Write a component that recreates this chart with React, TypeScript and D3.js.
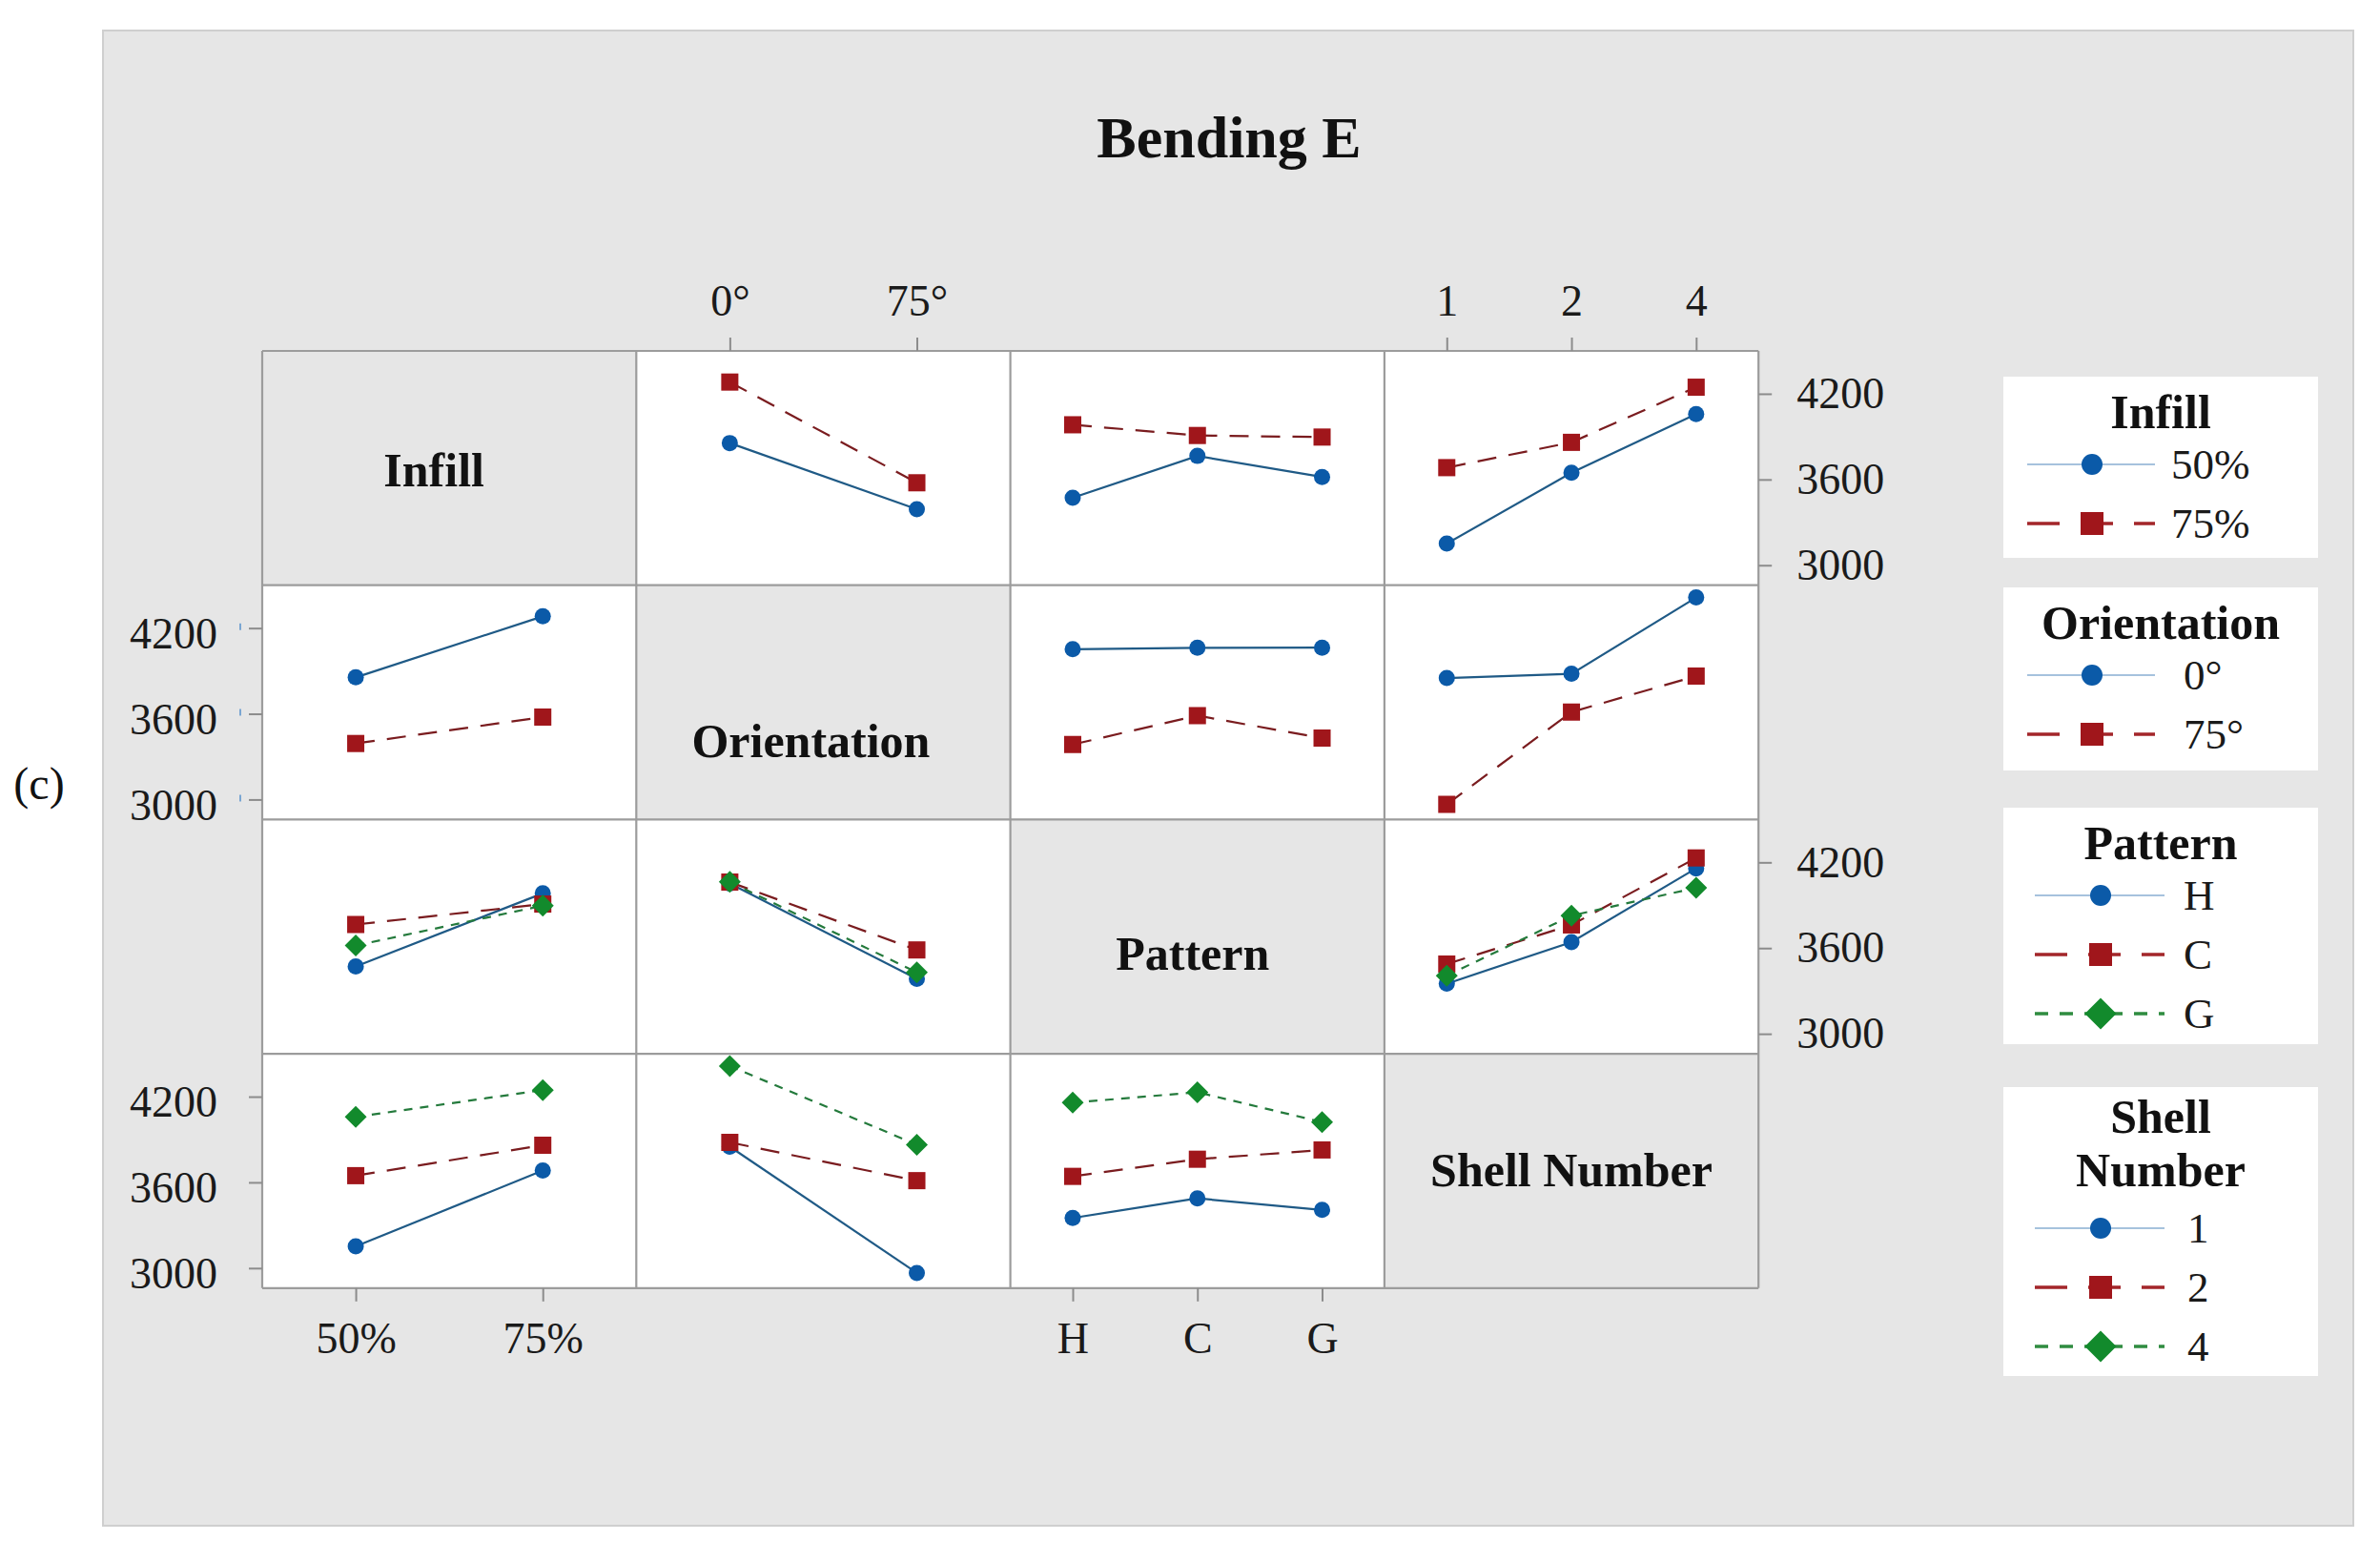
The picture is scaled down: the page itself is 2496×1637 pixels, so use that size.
import { useEffect, useRef } from "react";
import * as d3 from "d3";

// Factor levels
const INFILL = ["50%", "75%"];
const ORIENTATION = ["0°", "75°"];
const PATTERN = ["H", "C", "G"];
const SHELL = ["1", "2", "4"];

const FACTOR_NAMES = ["Infill", "Orientation", "Pattern", "Shell Number"];
const FACTOR_LEVELS = [INFILL, ORIENTATION, PATTERN, SHELL];

// Two-way means of Bending E, [level of first factor][level of second factor]
const INFILL_BY_ORIENTATION = [
  [3855, 3392],
  [4282, 3577],
];
const INFILL_BY_PATTERN = [
  [3472, 3765, 3618],
  [3983, 3908, 3897],
];
const INFILL_BY_SHELL = [
  [3152, 3647, 4058],
  [3683, 3860, 4246],
];
const ORIENTATION_BY_PATTERN = [
  [4052, 4062, 4063],
  [3385, 3587, 3430],
];
const ORIENTATION_BY_SHELL = [
  [3850, 3880, 4414],
  [2966, 3612, 3864],
];
const PATTERN_BY_SHELL = [
  [3351, 3642, 4158],
  [3488, 3762, 4231],
  [3407, 3827, 4022],
];

const MEANS: Record<string, number[][]> = {
  "0-1": INFILL_BY_ORIENTATION,
  "0-2": INFILL_BY_PATTERN,
  "0-3": INFILL_BY_SHELL,
  "1-2": ORIENTATION_BY_PATTERN,
  "1-3": ORIENTATION_BY_SHELL,
  "2-3": PATTERN_BY_SHELL,
};

const Y_TICKS = [3000, 3600, 4200];
const Y_DOMAIN = [2860, 4500];

// series look by level index
const STYLES = [
  { marker: "circle", fill: "#0b5aa8", line: "#1f5a86", dash: null, legendLine: "#a6c2dd", legendWidth: 2, legendDash: null },
  { marker: "square", fill: "#a0161b", line: "#7a1c1f", dash: "20,13", legendLine: "#a3262a", legendWidth: 3.5, legendDash: "34,22" },
  { marker: "diamond", fill: "#128a2c", line: "#247a3c", dash: "9,8", legendLine: "#2f8c40", legendWidth: 3.5, legendDash: "14,12" },
];

// layout
const W = 2496;
const H = 1637;
const GRID = { left: 275, top: 368, cellW: 392.3, cellH: 245.7 };
const DIAG_LABEL = [
  { dx: -16, cy: 493 },
  { dx: -13, cy: 777 },
  { dx: -5, cy: 1000 },
  { dx: 0, cy: 1227 },
];
const LEGEND_BOXES = [
  { top: 395, height: 190, x1: 2126, x2: 2260, mx: 2194, tx: 2277 },
  { top: 616, height: 192, x1: 2126, x2: 2260, mx: 2194, tx: 2290 },
  { top: 847, height: 248, x1: 2134, x2: 2270, mx: 2203, tx: 2290 },
  { top: 1140, height: 303, x1: 2134, x2: 2270, mx: 2203, tx: 2294 },
];

const FONT = "'Liberation Serif', 'DejaVu Serif', serif";
const GRAY_BG = "#e6e6e6";

function getMeans(trace: number, xf: number): number[][] {
  if (trace < xf) return MEANS[`${trace}-${xf}`];
  const m = MEANS[`${xf}-${trace}`];
  return m[0].map((_, j) => m.map((row) => row[j]));
}

function drawMarker(
  g: d3.Selection<SVGGElement, unknown, null, undefined>,
  kind: string,
  cx: number,
  cy: number,
  size: number,
  fill: string
) {
  if (kind === "circle") {
    g.append("circle").attr("cx", cx).attr("cy", cy).attr("r", size / 2).attr("fill", fill);
  } else if (kind === "square") {
    g.append("rect").attr("x", cx - size / 2).attr("y", cy - size / 2).attr("width", size).attr("height", size).attr("fill", fill);
  } else {
    const h = size / 2;
    g.append("path").attr("d", `M${cx},${cy - h}L${cx + h},${cy}L${cx},${cy + h}L${cx - h},${cy}Z`).attr("fill", fill);
  }
}

export default function App() {
  const svgRef = useRef<SVGSVGElement>(null);

  useEffect(() => {
    if (!svgRef.current) return;
    const svg = d3.select(svgRef.current);
    svg.selectAll("*").remove();

    svg.append("rect").attr("width", W).attr("height", H).attr("fill", "#ffffff");
    // outer gray panel
    svg.append("rect").attr("x", 108).attr("y", 32).attr("width", 2360).attr("height", 1568)
      .attr("fill", GRAY_BG).attr("stroke", "#cfcfcf").attr("stroke-width", 2);

    svg.append("text").attr("x", 1289).attr("y", 165).attr("text-anchor", "middle")
      .style("font-family", FONT).style("font-size", "62px").style("font-weight", "700").style("fill", "#111")
      .text("Bending E");

    svg.append("text").attr("x", 41).attr("y", 838).attr("text-anchor", "middle")
      .style("font-family", FONT).style("font-size", "48px").style("fill", "#111")
      .text("(c)");

    const n = FACTOR_NAMES.length;
    const colLeft = (c: number) => GRID.left + c * GRID.cellW;
    const rowTop = (r: number) => GRID.top + r * GRID.cellH;
    const xScale = (c: number) =>
      d3.scalePoint<string>().domain(FACTOR_LEVELS[c]).range([colLeft(c), colLeft(c) + GRID.cellW]).padding(0.5);
    const yScale = (r: number) =>
      d3.scaleLinear().domain(Y_DOMAIN).range([rowTop(r) + GRID.cellH, rowTop(r)]);

    const g = svg.append("g");

    // cells
    for (let r = 0; r < n; r++) {
      for (let c = 0; c < n; c++) {
        g.append("rect").attr("x", colLeft(c)).attr("y", rowTop(r))
          .attr("width", GRID.cellW).attr("height", GRID.cellH)
          .attr("fill", r === c ? GRAY_BG : "#ffffff");
      }
    }

    // plots
    for (let r = 0; r < n; r++) {
      for (let c = 0; c < n; c++) {
        if (r === c) continue;
        const x = xScale(c);
        const y = yScale(r);
        const means = getMeans(r, c);
        const levels = FACTOR_LEVELS[c];
        const lineGen = d3.line<number>().x((_, i) => x(levels[i]) as number).y((d) => y(d));
        means.forEach((series, s) => {
          const st = STYLES[s];
          g.append("path").attr("d", lineGen(series)).attr("fill", "none")
            .attr("stroke", st.line).attr("stroke-width", 2.2)
            .attr("stroke-dasharray", st.dash ?? null);
        });
        means.forEach((series, s) => {
          const st = STYLES[s];
          const size = st.marker === "circle" ? 17 : st.marker === "square" ? 18 : 23;
          series.forEach((v, i) => drawMarker(g, st.marker, x(levels[i]) as number, y(v), size, st.fill));
        });
      }
    }

    // grid lines
    const gridColor = "#9c9c9c";
    for (let i = 0; i <= n; i++) {
      g.append("line").attr("x1", colLeft(i)).attr("x2", colLeft(i))
        .attr("y1", rowTop(0)).attr("y2", rowTop(n))
        .attr("stroke", gridColor).attr("stroke-width", 2.2);
      g.append("line").attr("x1", colLeft(0)).attr("x2", colLeft(n))
        .attr("y1", rowTop(i)).attr("y2", rowTop(i))
        .attr("stroke", gridColor).attr("stroke-width", 2.2);
    }

    // diagonal labels
    FACTOR_NAMES.forEach((name, i) => {
      g.append("text").attr("x", colLeft(i) + GRID.cellW / 2 + DIAG_LABEL[i].dx)
        .attr("y", DIAG_LABEL[i].cy + 17).attr("text-anchor", "middle")
        .style("font-family", FONT).style("font-size", "50px").style("font-weight", "700").style("fill", "#111")
        .text(name);
    });

    const styleAxis = (ax: d3.Selection<SVGGElement, unknown, null, undefined>) => {
      ax.select(".domain").remove();
      ax.selectAll(".tick line").attr("stroke", "#8c8c8c").attr("stroke-width", 2);
      ax.selectAll(".tick text").style("font-family", FONT).style("font-size", "46px").style("fill", "#1a1a1a");
    };

    // x axes: top for odd columns, bottom for even columns
    for (let c = 0; c < n; c++) {
      const x = xScale(c);
      if (c % 2 === 1) {
        const ax = g.append("g").attr("transform", `translate(0,${rowTop(0)})`)
          .call(d3.axisTop(x).tickSize(14).tickPadding(23));
        styleAxis(ax);
      } else {
        const ax = g.append("g").attr("transform", `translate(0,${rowTop(n)})`)
          .call(d3.axisBottom(x).tickSize(14).tickPadding(22));
        styleAxis(ax);
      }
    }

    // y axes: right for even rows, left for odd rows
    for (let r = 0; r < n; r++) {
      const y = yScale(r);
      if (r % 2 === 0) {
        const ax = g.append("g").attr("transform", `translate(${colLeft(n)},0)`)
          .call(d3.axisRight(y).tickValues(Y_TICKS).tickFormat(d3.format("d")).tickSize(14).tickPadding(26));
        styleAxis(ax);
      } else {
        const ax = g.append("g").attr("transform", `translate(${colLeft(0)},0)`)
          .call(d3.axisLeft(y).tickValues(Y_TICKS).tickFormat(d3.format("d")).tickSize(14).tickPadding(33));
        styleAxis(ax);
        ax.selectAll(".tick text").attr("dy", "0.45em");
        if (r === 1) {
          // faint blue marks beside the first left axis
          Y_TICKS.forEach((t) => {
            g.append("line").attr("x1", colLeft(0) - 23).attr("x2", colLeft(0) - 23)
              .attr("y1", y(t) - 5).attr("y2", y(t) + 2)
              .attr("stroke", "#7aa6d2").attr("stroke-width", 2);
          });
        }
      }
    }

    // legends
    FACTOR_NAMES.forEach((name, f) => {
      const box = LEGEND_BOXES[f];
      const lg = svg.append("g");
      lg.append("rect").attr("x", 2101).attr("y", box.top).attr("width", 330).attr("height", box.height).attr("fill", "#ffffff");
      const lines = name.split(" ");
      const titleTop = lines.length === 1 ? 54 : 48;
      lines.forEach((t, i) => {
        lg.append("text").attr("x", 2266).attr("y", box.top + titleTop + i * 56).attr("text-anchor", "middle")
          .style("font-family", FONT).style("font-size", "50px").style("font-weight", "700").style("fill", "#111")
          .text(t);
      });
      const first = box.top + (lines.length === 1 ? 92 : 148);
      FACTOR_LEVELS[f].forEach((lvl, i) => {
        const st = STYLES[i];
        const yy = first + i * 62;
        lg.append("line").attr("x1", box.x1).attr("x2", box.x2).attr("y1", yy).attr("y2", yy)
          .attr("stroke", st.legendLine).attr("stroke-width", st.legendWidth)
          .attr("stroke-dasharray", st.legendDash ?? null);
        const size = st.marker === "circle" ? 22 : st.marker === "square" ? 24 : 33;
        drawMarker(lg, st.marker, box.mx, yy, size, st.fill);
        lg.append("text").attr("x", box.tx).attr("y", yy + 15)
          .style("font-family", FONT).style("font-size", "45px").style("fill", "#1a1a1a")
          .text(lvl);
      });
    });

    return () => {
      svg.selectAll("*").remove();
    };
  }, []);

  return (
    <svg
      ref={svgRef}
      width={W}
      height={H}
      style={{ position: "absolute", left: 0, top: 0, display: "block" }}
    />
  );
}
